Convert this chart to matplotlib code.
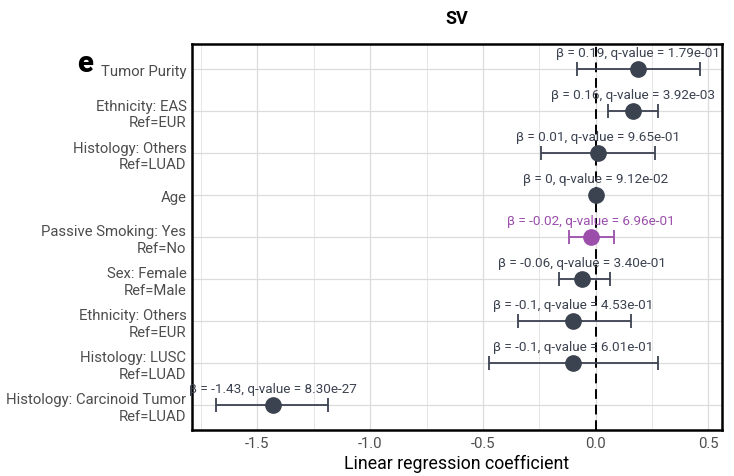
import matplotlib
matplotlib.use("Agg")
import matplotlib.pyplot as plt
import numpy as np

plt.rcParams['font.family'] = ['Roboto', 'DejaVu Sans']

labels = ["Tumor Purity", "Ethnicity: EAS\nRef=EUR", "Histology: Others\nRef=LUAD", "Age",
          "Passive Smoking: Yes\nRef=No", "Sex: Female\nRef=Male", "Ethnicity: Others\nRef=EUR",
          "Histology: LUSC\nRef=LUAD", "Histology: Carcinoid Tumor\nRef=LUAD"]
beta = [0.186, 0.164, 0.01, 0.0, -0.02, -0.06, -0.10, -0.10, -1.43]
ci_low = [-0.084, 0.053, -0.244, -0.003, -0.12, -0.164, -0.346, -0.475, -1.685]
ci_high = [0.461, 0.275, 0.262, 0.003, 0.08, 0.062, 0.155, 0.275, -1.188]
beta_txt = ["0.19", "0.16", "0.01", "0", "-0.02", "-0.06", "-0.1", "-0.1", "-1.43"]
qvals = ["1.79e-01", "3.92e-03", "9.65e-01", "9.12e-02", "6.96e-01", "3.40e-01", "4.53e-01", "6.01e-01", "8.30e-27"]
highlight = [False, False, False, False, True, False, False, False, False]
xticks = [-1.5, -1.0, -0.5, 0.0, 0.5]

dark = "#3b4250"
purple = "#9b4fab"

fig = plt.figure(figsize=(7.34, 4.77), dpi=100)
ax = fig.add_axes([192/734, 1-431/477, (722-192)/734, (431-45)/477])

n = len(labels)
ys = np.arange(n, 0, -1)

ax.set_xlim(-1.79, 0.56)
ax.set_ylim(0.4, n + 0.6)

# grid
ax.set_xticks(xticks)
ax.set_xticks([-1.75, -1.25, -0.75, -0.25, 0.25], minor=True)
ax.set_yticks(ys)
ax.set_yticklabels(labels)
ax.grid(True, which='major', color='#dcdcdc', lw=0.9)
ax.grid(True, which='minor', axis='x', color='#e6e6e6', lw=0.7)
ax.set_axisbelow(True)

ax.axvline(0, color='black', ls=(0, (5, 3)), lw=1.4, zorder=2)

for y, b, lo, hi, bt, q, h in zip(ys, beta, ci_low, ci_high, beta_txt, qvals, highlight):
    c = purple if h else dark
    ax.errorbar([b], [y], xerr=[[b - lo], [hi - b]], fmt='none', ecolor=c,
                elinewidth=1.3, capsize=5, capthick=1.3, zorder=3)
    ax.plot([b], [y], 'o', color=c, ms=11, zorder=4)
    ax.text(b, y + 0.24, f"β = {bt}, q-value = {q}", ha='center', va='bottom',
            fontsize=9.7, color=c, zorder=5)

ax.set_xticklabels([f"{t:.1f}" for t in xticks])
ax.tick_params(axis='both', which='both', length=0, labelsize=10.7, labelcolor='#4d4d4d', pad=4)
for lab in ax.get_yticklabels():
    lab.set_multialignment('right')

for s in ax.spines.values():
    s.set_color('black')
    s.set_linewidth(1.8)

ax.set_xlabel("Linear regression coefficient", fontsize=12.8, color='black', labelpad=3)
ax.set_title("SV", fontsize=13, fontweight='bold', pad=15)

fig.text(85/734, 1-64/477, "e", fontsize=21, fontweight='heavy', ha='center', va='center')

fig.savefig("out.png", dpi=100)
